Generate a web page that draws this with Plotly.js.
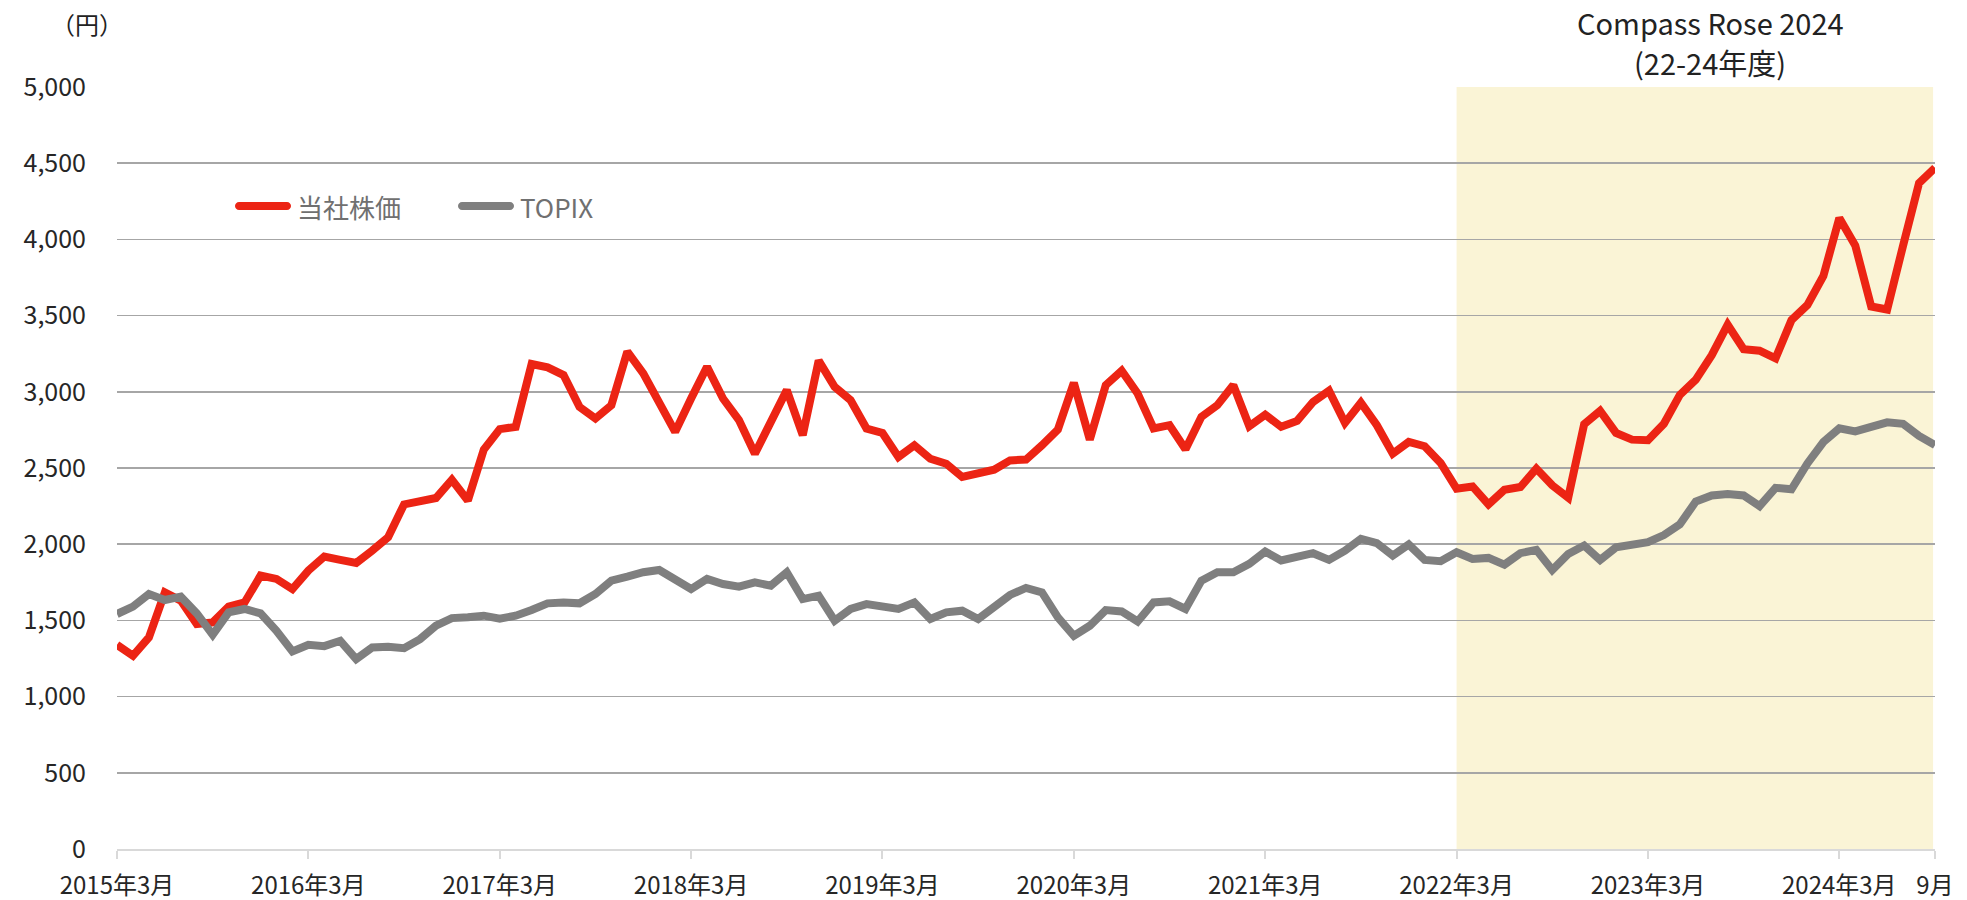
<!DOCTYPE html>
<html>
<head>
<meta charset="utf-8">
<script src="https://cdn.plot.ly/plotly-3.0.1.min.js"></script>
<style>
  html, body { margin: 0; padding: 0; background: #ffffff; }
  #chart { width: 1967px; height: 900px; }
</style>
</head>
<body>
<div id="chart"></div>
<script>
// ---- Data (monthly, 2015/3 – 2024/9) ----
const startYear = 2015;
const startMonth = 3;

const companyPrice = [
  1340, 1268, 1388, 1684, 1630, 1476, 1487, 1590, 1618, 1794, 1772, 1706,
  1827, 1919, 1897, 1877, 1958, 2046, 2261, 2287, 2303, 2423, 2287, 2621,
  2755, 2770, 3182, 3160, 3110, 2901, 2825, 2912, 3263, 3121, 2934, 2737,
  2956, 3164, 2956, 2814, 2594, 2803, 3011, 2715, 3204, 3033, 2945, 2759,
  2730, 2572, 2649, 2561, 2528, 2441, 2467, 2489, 2550, 2555, 2649, 2752,
  3059, 2686, 3044, 3138, 2989, 2759, 2781, 2623, 2836, 2912, 3044, 2774,
  2850, 2770, 2809, 2934, 3007, 2796, 2928, 2781, 2594, 2671, 2643, 2533,
  2364, 2379, 2261, 2357, 2375, 2496, 2386, 2305, 2787, 2875, 2730, 2686,
  2682, 2790, 2980, 3080, 3240, 3440, 3280, 3270, 3220, 3470, 3570, 3760,
  4140, 3960, 3560, 3540, 3960, 4370, 4470
];

const topix = [
  1542, 1590, 1673, 1634, 1656, 1546, 1406, 1553, 1575, 1546, 1432, 1296,
  1340, 1331, 1366, 1246, 1322, 1327, 1318, 1377, 1465, 1515, 1520, 1531,
  1512, 1531, 1568, 1612, 1618, 1612, 1673, 1761, 1787, 1816, 1831, 1765,
  1706, 1772, 1739, 1721, 1750, 1728, 1816, 1640, 1662, 1498, 1575, 1607,
  1595, 1575, 1618, 1509, 1553, 1564, 1509, 1586, 1667, 1713, 1684, 1520,
  1399, 1465, 1568, 1559, 1493, 1618, 1625, 1575, 1761, 1816, 1816, 1871,
  1952, 1893, 1914, 1941, 1897, 1958, 2035, 2007, 1925, 1998, 1897, 1888,
  1947, 1903, 1910, 1866, 1941, 1963, 1831, 1936, 1991, 1897, 1980, 2002,
  2013, 2060, 2130, 2280, 2320, 2330, 2320, 2250, 2370, 2360, 2530, 2670,
  2760, 2740, 2770, 2800, 2790, 2710, 2650
];

const tickCategories = ["2015/3","2016/3","2017/3","2018/3","2019/3","2020/3",
                        "2021/3","2022/3","2023/3","2024/3","2024/9"];
const tickLabels = ["2015年3月","2016年3月","2017年3月","2018年3月","2019年3月","2020年3月",
                    "2021年3月","2022年3月","2023年3月","2024年3月","9月"];
const yTickVals = [0, 500, 1000, 1500, 2000, 2500, 3000, 3500, 4000, 4500, 5000];

const seriesNames = ["当社株価", "TOPIX"];
const highlightStart = "2022/3";
const highlightTitle1 = "Compass Rose 2024";
const highlightTitle2 = "(22-24年度)";
const unitLabel = "（円）";

// month categories
const months = [];
for (let k = 0; k < companyPrice.length; k++) {
  const m = startMonth - 1 + k;
  months.push((startYear + Math.floor(m / 12)) + "/" + ((m % 12) + 1));
}

const FONT = '"Noto Sans CJK JP", "Noto Sans", sans-serif';
const RED = "#EC2414";
const GREY = "#7F7F7F";

// layout geometry (pixels)
const W = 1967, H = 900;
const mL = 117, mR = 32, mT = 87, mB = 51;
const plotW = W - mL - mR, plotH = H - mT - mB;
const px2x = px => (px - mL) / plotW;
const py2y = py => (H - mB - py) / plotH;

const traces = [
  {
    x: months, y: companyPrice, type: "scatter", mode: "lines",
    name: seriesNames[0], line: { color: RED, width: 8 }, showlegend: false,
    hoverinfo: "x+y"
  },
  {
    x: months, y: topix, type: "scatter", mode: "lines",
    name: seriesNames[1], line: { color: GREY, width: 8 }, showlegend: false,
    hoverinfo: "x+y"
  }
];

function pill(len, h) {
  const r = h / 2, k = 0.5523 * r;
  return `M ${r},${-r} L ${len - r},${-r} C ${len - r + k},${-r} ${len},${-k} ${len},0 ` +
         `C ${len},${k} ${len - r + k},${r} ${len - r},${r} L ${r},${r} ` +
         `C ${r - k},${r} 0,${k} 0,0 C 0,${-k} ${r - k},${-r} ${r},${-r} Z`;
}

const shapes = [
  {
    type: "rect", xref: "x", yref: "y",
    x0: months.indexOf(highlightStart), x1: months.length - 1 - 0.12,
    y0: 0, y1: 5000,
    fillcolor: "#FAF4D6", line: { width: 0 }, layer: "below"
  },
  {
    type: "path", xref: "paper", yref: "paper",
    xsizemode: "pixel", ysizemode: "pixel",
    xanchor: px2x(235), yanchor: py2y(206),
    path: pill(56, 8), fillcolor: RED, line: { width: 0 }
  },
  {
    type: "path", xref: "paper", yref: "paper",
    xsizemode: "pixel", ysizemode: "pixel",
    xanchor: px2x(458), yanchor: py2y(206),
    path: pill(56, 8), fillcolor: GREY, line: { width: 0 }
  }
];

const annotations = [
  {
    xref: "paper", yref: "paper", x: px2x(295), y: py2y(206),
    xanchor: "left", yanchor: "middle", showarrow: false,
    text: seriesNames[0], font: { family: FONT, size: 26, color: "#707070" }
  },
  {
    xref: "paper", yref: "paper", x: px2x(518), y: py2y(206),
    xanchor: "left", yanchor: "middle", showarrow: false,
    text: seriesNames[1], font: { family: FONT, size: 26, color: "#707070" }
  },
  {
    xref: "paper", yref: "paper", x: px2x(1710), y: py2y(22),
    xanchor: "center", yanchor: "middle", showarrow: false,
    text: highlightTitle1, font: { family: FONT, size: 29, color: "#222222" }
  },
  {
    xref: "paper", yref: "paper", x: px2x(1710), y: py2y(62),
    xanchor: "center", yanchor: "middle", showarrow: false,
    text: highlightTitle2, font: { family: FONT, size: 29, color: "#222222" }
  },
  {
    xref: "paper", yref: "paper", x: px2x(87), y: py2y(23),
    xanchor: "center", yanchor: "middle", showarrow: false,
    text: unitLabel, font: { family: FONT, size: 24, color: "#222222" }
  }
];

const layout = {
  width: W, height: H,
  margin: { l: mL, r: mR, t: mT, b: mB, pad: 0 },
  paper_bgcolor: "#ffffff", plot_bgcolor: "#ffffff",
  showlegend: false,
  font: { family: FONT, size: 25, color: "#262626" },
  xaxis: {
    type: "category",
    range: [0, months.length - 1],
    tickmode: "array", tickvals: tickCategories, ticktext: tickLabels,
    showgrid: false, zeroline: false,
    showline: true, linecolor: "#D9D9D9", linewidth: 2,
    ticks: "outside", ticklen: 8, tickwidth: 2, tickcolor: "#D9D9D9",
    ticklabelstandoff: 6,
    tickfont: { family: FONT, size: 24, color: "#262626" },
    fixedrange: true
  },
  yaxis: {
    range: [0, 5000],
    tickmode: "array", tickvals: yTickVals,
    tickformat: ",d",
    showgrid: true, gridcolor: "#A6A6A6", gridwidth: 1.6,
    zeroline: false, showline: false, ticks: "",
    ticklabelstandoff: 30,
    tickfont: { family: FONT, size: 25, color: "#262626" },
    fixedrange: true
  },
  shapes: shapes,
  annotations: annotations
};

Plotly.newPlot("chart", traces, layout, { displayModeBar: false, staticPlot: true });
</script>
</body>
</html>
